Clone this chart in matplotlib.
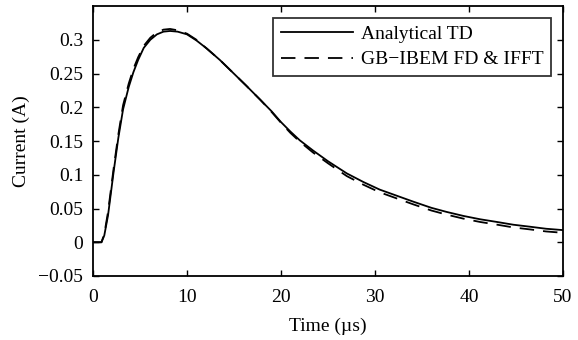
import matplotlib
matplotlib.use("Agg")
import matplotlib.pyplot as plt

plt.rcParams['font.family'] = ['Liberation Serif', 'DejaVu Serif']

# Analytical TD
t_an = [0, 0.5, 0.9, 1.2, 1.6, 2.2, 2.7, 3.2, 3.8, 4.3, 4.8, 5.4, 6.1, 6.8, 7.5, 8.2,
        9.0, 10.0, 11.0, 12.1, 13.5, 14.9, 16.3, 17.8, 19.0, 20.0, 21.0, 22.0, 23.4,
        25.0, 27.0, 28.8, 30.5, 32.3, 34.1, 36.0, 37.6, 39.4, 41.2, 43.0, 44.7, 46.5,
        48.2, 50.0]
i_an = [0.0, 0.0, 0.0, 0.01, 0.04, 0.105, 0.155, 0.197, 0.23, 0.252, 0.27, 0.288, 0.3,
        0.308, 0.312, 0.313, 0.312, 0.308, 0.299, 0.287, 0.27, 0.251, 0.232, 0.211,
        0.194, 0.178, 0.164, 0.151, 0.136, 0.12, 0.102, 0.089, 0.078, 0.069, 0.060,
        0.051, 0.045, 0.039, 0.034, 0.030, 0.026, 0.023, 0.020, 0.018]

# GB-IBEM FD & IFFT
t_gb = [0, 0.5, 0.9, 1.2, 1.6, 2.2, 2.7, 3.2, 3.8, 4.3, 4.8, 5.4, 6.1, 6.8, 7.5, 8.2,
        9.0, 10.0, 11.0, 12.1, 13.5, 14.9, 16.3, 17.8, 19.0, 20.0, 21.0, 22.0, 23.4,
        25.0, 27.0, 28.8, 30.5, 32.3, 34.1, 36.0, 37.6, 39.4, 41.2, 43.0, 44.7, 46.5,
        48.2, 50.0]
i_gb = [0.0, 0.0, 0.0, 0.012, 0.045, 0.11, 0.16, 0.203, 0.235, 0.257, 0.274, 0.291, 0.303,
        0.311, 0.315, 0.316, 0.314, 0.309, 0.3, 0.287, 0.27, 0.251, 0.232, 0.211,
        0.193, 0.177, 0.162, 0.149, 0.133, 0.117, 0.098, 0.085, 0.074, 0.065, 0.056,
        0.047, 0.041, 0.035, 0.030, 0.026, 0.022, 0.019, 0.016, 0.014]

xticks = [0, 10, 20, 30, 40, 50]
yticks = [-0.05, 0, 0.05, 0.1, 0.15, 0.2, 0.25, 0.3]
yticklabels = ['\u22120.05', '0', '0.05', '0.1', '0.15', '0.2', '0.25', '0.3']

fig = plt.figure(figsize=(5.78, 3.4), dpi=100)
ax = fig.add_axes([93/578, 1 - 276/340, (563-93)/578, (276-6)/340])

ax.plot(t_an, i_an, color='black', lw=1.3, label='Analytical TD')
ax.plot(t_gb, i_gb, color='black', lw=1.3, ls=(0, (8, 5)), label='GB\u2212IBEM FD & IFFT')

ax.set_xlim(0, 50)
ax.set_ylim(-0.05, 0.35)
ax.set_xticks(xticks)
ax.set_xticklabels([str(x) for x in xticks])
ax.set_yticks(yticks)
ax.set_yticklabels(yticklabels)
ax.tick_params(direction='in', top=True, right=True, labelsize=14, length=4, width=1)
ax.tick_params(axis='x', pad=9)
ax.tick_params(axis='y', pad=7)
for s in ax.spines.values():
    s.set_linewidth(1.3)

ax.set_xlabel('Time (\u00b5s)', fontsize=14, labelpad=9)
ax.set_ylabel('Current (A)', fontsize=14, labelpad=6)

leg = ax.legend(loc='upper right', fontsize=14, frameon=True, fancybox=False,
                edgecolor='black', handlelength=3.7, borderpad=0.4, labelspacing=0.4,
                handletextpad=0.4, borderaxespad=0.6)
leg.get_frame().set_linewidth(1.3)

fig.savefig('out.png', dpi=100)
